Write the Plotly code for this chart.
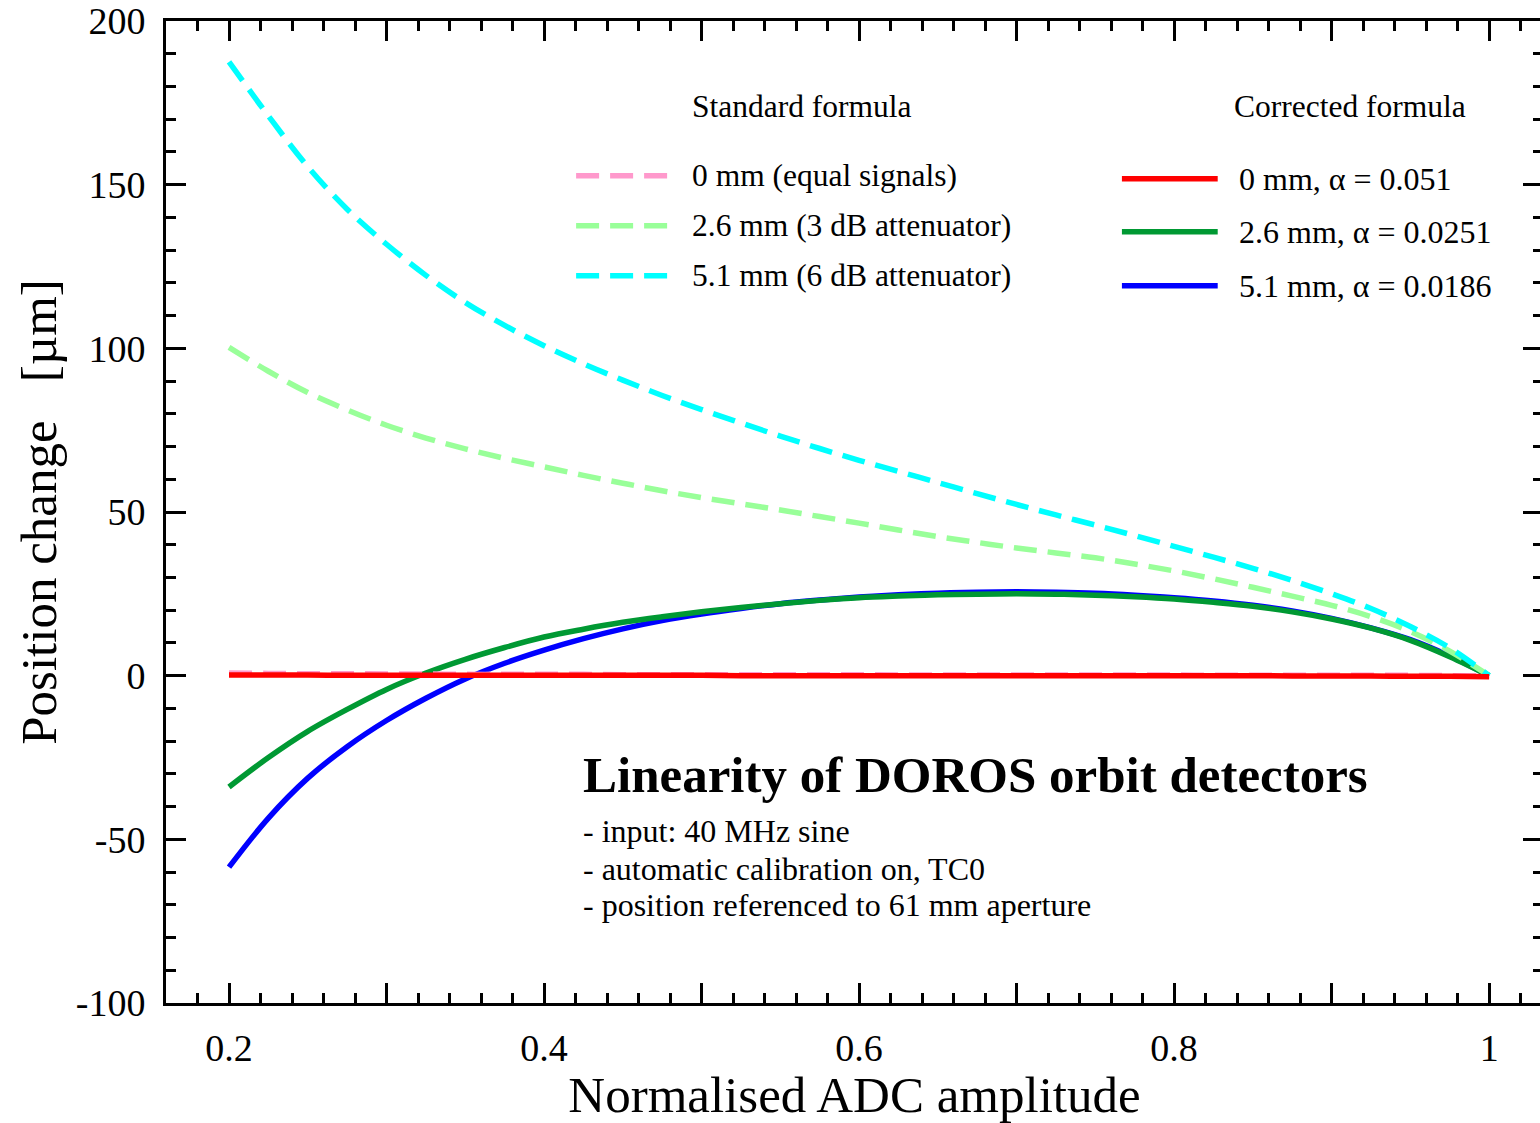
import plotly.graph_objects as go

# ---------------- data ----------------
amplitude = [0.2, 0.225, 0.25, 0.275, 0.3, 0.325, 0.35, 0.375, 0.4, 0.425,
             0.45, 0.475, 0.5, 0.525, 0.55, 0.575, 0.6, 0.625, 0.65, 0.675,
             0.7, 0.725, 0.75, 0.775, 0.8, 0.825, 0.85, 0.875, 0.9, 0.925,
             0.95, 0.975, 1.0]

std_0mm = [0.8, 0.7, 0.6, 0.6, 0.5, 0.5, 0.4, 0.4, 0.4, 0.4,
           0.3, 0.3, 0.3, 0.3, 0.3, 0.3, 0.3, 0.2, 0.2, 0.2,
           0.2, 0.2, 0.2, 0.2, 0.2, 0.1, 0.1, 0.1, 0.1, 0.1,
           0.1, 0.0, 0.0]
std_26mm = [100.3, 93.0, 86.5, 81.2, 76.5, 72.6, 69.3, 66.4, 63.8, 61.2,
            58.8, 56.5, 54.4, 52.5, 50.6, 48.6, 46.6, 44.5, 42.5, 40.7,
            39.0, 37.5, 36.0, 34.1, 32.0, 29.6, 27.0, 24.3, 21.5, 18.0,
            13.5, 7.5, 0.0]
std_51mm = [187.5, 171.0, 155.5, 142.5, 131.8, 122.3, 114.0, 107.0, 100.8, 95.3,
            90.3, 85.6, 81.3, 77.2, 73.2, 69.4, 65.8, 62.4, 59.0, 55.6,
            52.3, 49.1, 46.0, 42.8, 39.5, 36.2, 32.8, 29.1, 25.0, 20.5,
            15.0, 8.5, 0.0]

cor_0mm = [0.2, 0.2, 0.2, 0.1, 0.1, 0.1, 0.1, 0.1, 0.1, 0.1,
           0.1, 0.1, 0.1, 0.0, 0.0, 0.0, 0.0, 0.0, 0.0, 0.0,
           0.0, 0.0, 0.0, 0.0, 0.0, 0.0, 0.0, -0.1, -0.1, -0.1,
           -0.2, -0.2, -0.3]
cor_26mm = [-34.0, -25.0, -17.0, -10.3, -4.2, 0.8, 5.0, 8.6, 11.8, 14.2,
            16.3, 18.0, 19.5, 20.8, 22.0, 23.0, 23.8, 24.3, 24.7, 24.9,
            25.0, 24.9, 24.6, 24.1, 23.4, 22.4, 21.2, 19.5, 17.3, 14.5,
            10.8, 5.8, 0.0]
cor_51mm = [-58.5, -43.5, -31.3, -21.7, -13.7, -6.9, -1.0, 3.8, 7.8, 11.3,
            14.3, 16.8, 18.8, 20.5, 22.0, 23.1, 24.0, 24.7, 25.2, 25.5,
            25.6, 25.5, 25.2, 24.6, 23.8, 22.8, 21.5, 19.8, 17.5, 14.6,
            11.0, 6.0, 0.0]

std_labels = ["0 mm (equal signals)", "2.6 mm (3 dB attenuator)", "5.1 mm (6 dB attenuator)"]
cor_labels = ["0 mm, \u03b1 = 0.051", "2.6 mm, \u03b1 = 0.0251", "5.1 mm, \u03b1 = 0.0186"]
std_colors = ["#FF99CC", "#99FF99", "#00FFFF"]
cor_colors = ["#FF0000", "#009933", "#0000FF"]

x_tickvals = [0.2, 0.3, 0.4, 0.5, 0.6, 0.7, 0.8, 0.9, 1.0]
x_ticktext = ["0.2", "", "0.4", "", "0.6", "", "0.8", "", "1"]
y_tickvals = [-100, -50, 0, 50, 100, 150, 200]
y_ticktext = ["-100", "-50", "0", "50", "100", "150", "200"]

title_text = "Linearity of DOROS orbit detectors"
notes = ["- input: 40 MHz sine",
         "- automatic calibration on, TC0",
         "- position referenced to 61 mm aperture"]

FONT = "Liberation Serif, Times New Roman, serif"
DASH = "23px,11px"
LW = 5.5

fig = go.Figure()

std_series = [std_0mm, std_26mm, std_51mm]
cor_series = [cor_0mm, cor_26mm, cor_51mm]

for i in [2, 1]:
    fig.add_trace(go.Scatter(x=amplitude, y=cor_series[i], mode="lines",
                             line=dict(color=cor_colors[i], width=LW, shape="spline"),
                             name=cor_labels[i], showlegend=False))
for i in [0, 1, 2]:
    fig.add_trace(go.Scatter(x=amplitude, y=std_series[i], mode="lines",
                             line=dict(color=std_colors[i], width=LW, dash=DASH, shape="spline"),
                             name=std_labels[i], showlegend=False))
fig.add_trace(go.Scatter(x=amplitude, y=cor_series[0], mode="lines",
                         line=dict(color=cor_colors[0], width=LW, shape="spline"),
                         name=cor_labels[0], showlegend=False))

# ---------------- manual legends (page pixel -> paper) ----------------
PLOT_W = 1380.0
PLOT_H = 983.0

def px_x(p):
    return (p - 166) / PLOT_W

def px_y(p):
    return (1003 - p) / PLOT_H

LEG = 31.5
std_rows = [175, 225, 275]
cor_rows = [178, 231, 285]
for lab, col, r in zip(std_labels, std_colors, std_rows):
    fig.add_shape(type="line", xref="paper", yref="paper",
                  x0=px_x(577), x1=px_x(670), y0=px_y(r), y1=px_y(r),
                  line=dict(color=col, width=LW, dash=DASH))
    fig.add_annotation(text=lab, xref="paper", yref="paper", x=px_x(691), y=px_y(r),
                       xanchor="left", yanchor="middle", showarrow=False,
                       font=dict(family=FONT, size=LEG, color="black"))
for lab, col, r in zip(cor_labels, cor_colors, cor_rows):
    fig.add_shape(type="line", xref="paper", yref="paper",
                  x0=px_x(1124), x1=px_x(1220), y0=px_y(r), y1=px_y(r),
                  line=dict(color=col, width=LW))
    fig.add_annotation(text=lab, xref="paper", yref="paper", x=px_x(1239), y=px_y(r),
                       xanchor="left", yanchor="middle", showarrow=False,
                       font=dict(family=FONT, size=32, color="black"))

fig.add_annotation(text="Standard formula", xref="paper", yref="paper", x=px_x(691), y=px_y(106),
                   xanchor="left", yanchor="middle", showarrow=False,
                   font=dict(family=FONT, size=LEG, color="black"))
fig.add_annotation(text="Corrected formula", xref="paper", yref="paper", x=px_x(1234), y=px_y(106),
                   xanchor="left", yanchor="middle", showarrow=False,
                   font=dict(family=FONT, size=LEG, color="black"))

fig.add_annotation(text="<b>" + title_text + "</b>", xref="paper", yref="paper",
                   x=px_x(582), y=px_y(775), xanchor="left", yanchor="middle", showarrow=False,
                   font=dict(family=FONT, size=51, color="black"))
for note, r in zip(notes, [831, 869, 905]):
    fig.add_annotation(text=note, xref="paper", yref="paper", x=px_x(582), y=px_y(r),
                       xanchor="left", yanchor="middle", showarrow=False,
                       font=dict(family=FONT, size=32, color="black"))

axis_common = dict(showgrid=False, zeroline=False, showline=True, linecolor="black",
                   linewidth=3, mirror="allticks", ticks="inside", ticklen=20,
                   tickwidth=3, tickcolor="black", ticklabeloverflow="allow",
                   tickfont=dict(family=FONT, size=38, color="black"))

fig.update_xaxes(range=[0.16, 1.0342], tickmode="array", tickvals=x_tickvals,
                 ticktext=x_ticktext, ticklabelstandoff=9,
                 minor=dict(tickmode="linear", tick0=0, dtick=0.02, ticks="inside",
                            ticklen=10, tickwidth=3, tickcolor="black"),
                 title=dict(text="Normalised ADC amplitude", standoff=16,
                            font=dict(family=FONT, size=51, color="black")),
                 **axis_common)
fig.update_yaxes(range=[-100, 200], tickmode="array", tickvals=y_tickvals,
                 ticktext=y_ticktext, ticklabelstandoff=10,
                 minor=dict(tickmode="linear", tick0=0, dtick=10, ticks="inside",
                            ticklen=10, tickwidth=3, tickcolor="black"),
                 title=dict(text="Position change\u00a0\u00a0\u00a0[\u00b5m]", standoff=3,
                            font=dict(family=FONT, size=51, color="black")),
                 **axis_common)

# the frame's right side lies just beyond the visible window, as in the reference
fig.update_layout(width=1546, height=1123,
                  margin=dict(l=166, r=0, t=20, b=120),
                  plot_bgcolor="white", paper_bgcolor="white",
                  showlegend=False)

fig.write_html("out.html", config={"displayModeBar": False},
               post_script="document.body.style.margin='0';document.body.style.overflow='hidden';")
